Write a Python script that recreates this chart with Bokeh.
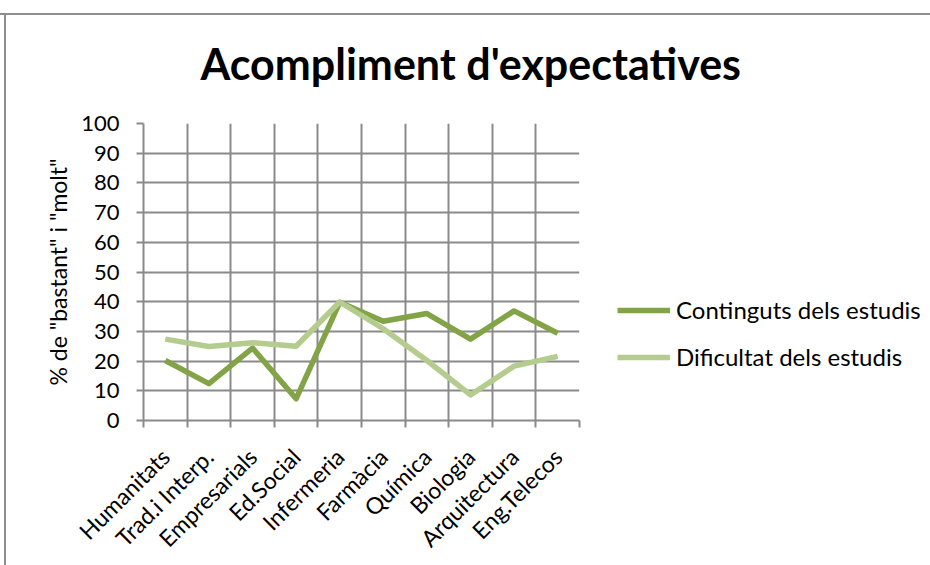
from bokeh.plotting import figure
from bokeh.models import FixedTicker, Legend, LegendItem, Range1d, Title
from bokeh.embed import file_html
from bokeh.resources import INLINE

categories = ["Humanitats", "Trad.i Interp.", "Empresarials", "Ed.Social", "Infermeria",
              "Farmàcia", "Química", "Biologia", "Arquitectura", "Eng.Telecos"]
continguts = [20.2, 12.4, 24.4, 7.3, 39.8, 33.4, 36.0, 27.4, 36.9, 29.4]
dificultat = [27.4, 24.9, 26.2, 25.0, 39.9, 30.9, 20.2, 8.6, 18.3, 21.6]
y_ticks = [0, 10, 20, 30, 40, 50, 60, 70, 80, 90, 100]

FONT = "Lato"
DARK = "#82A446"
LIGHT = "#B5CC8F"
GRID = "#8a8a8a"

xs = [i + 1 for i in range(len(categories))]

p = figure(frame_width=436, frame_height=297, output_backend="svg", toolbar_location=None,
           x_range=Range1d(0.5, len(categories) + 0.5), y_range=Range1d(0, 100),
           min_border_left=143, min_border_right=0, min_border_top=123, min_border_bottom=145)
p.styles = {"background": "linear-gradient(#8e8e8e, #8e8e8e) 0 13px / 100% 2px no-repeat, "
                          "linear-gradient(#8e8e8e, #8e8e8e) 4px 13px / 2px 100% no-repeat, white"}
p.outline_line_color = None
p.background_fill_color = "white"
p.border_fill_alpha = 0

t = Title(text="Acompliment d'expectatives", text_font=FONT, text_font_size="43px",
          text_font_style="bold", text_color="black", align="left", offset=57, standoff=69)
p.add_layout(t, "above")

# grid
p.xgrid.ticker = FixedTicker(ticks=[i + 0.5 for i in range(len(categories) + 1)])
p.ygrid.ticker = FixedTicker(ticks=y_ticks)
for g in (p.xgrid, p.ygrid):
    g.grid_line_color = GRID
    g.grid_line_width = 2

# x axis
p.xaxis.ticker = FixedTicker(ticks=xs, minor_ticks=[i + 0.5 for i in range(len(categories) + 1)])
p.xaxis.major_label_overrides = {x: c for x, c in zip(xs, categories)}
p.xaxis.major_tick_line_color = None
p.xaxis.minor_tick_line_color = GRID
p.xaxis.minor_tick_line_width = 2
p.xaxis.minor_tick_out = 7
p.xaxis.minor_tick_in = 0
p.xaxis.axis_line_color = GRID
p.xaxis.axis_line_width = 2
p.xaxis.major_label_orientation = 0.785398
p.xaxis.major_label_text_font = FONT
p.xaxis.major_label_text_font_size = "23px"
p.xaxis.major_label_text_color = "black"
p.xaxis.major_label_standoff = 25

# y axis
p.yaxis.ticker = FixedTicker(ticks=y_ticks)
p.yaxis.minor_tick_line_color = None
p.yaxis.major_tick_line_color = GRID
p.yaxis.major_tick_line_width = 2
p.yaxis.major_tick_out = 7
p.yaxis.major_tick_in = 0
p.yaxis.axis_line_color = GRID
p.yaxis.axis_line_width = 2
p.yaxis.major_label_text_font = FONT
p.yaxis.major_label_text_font_size = "22px"
p.yaxis.major_label_text_color = "black"
p.yaxis.major_label_standoff = 17
p.yaxis.axis_label = '% de "bastant" i "molt"'
p.yaxis.axis_label_text_font = FONT
p.yaxis.axis_label_text_font_size = "23px"
p.yaxis.axis_label_text_font_style = "normal"
p.yaxis.axis_label_text_color = "black"
p.yaxis.axis_label_standoff = 6

r1 = p.line(xs, continguts, line_color=DARK, line_width=5.5, line_join="round")
r2 = p.line(xs, dificultat, line_color=LIGHT, line_width=5.5, line_join="round")

legend = Legend(items=[LegendItem(label="Continguts dels estudis", renderers=[r1]),
                       LegendItem(label="Dificultat dels estudis", renderers=[r2])],
                location=(38, 49), padding=0, margin=0, border_line_color=None,
                background_fill_alpha=0, glyph_width=53, glyph_height=20, label_height=20,
                spacing=18, label_standoff=6, label_text_font=FONT,
                label_text_font_size="24px", label_text_color="black",
                label_text_baseline="middle")
p.add_layout(legend, "right")

open("out.html", "w").write(file_html(p, INLINE))
